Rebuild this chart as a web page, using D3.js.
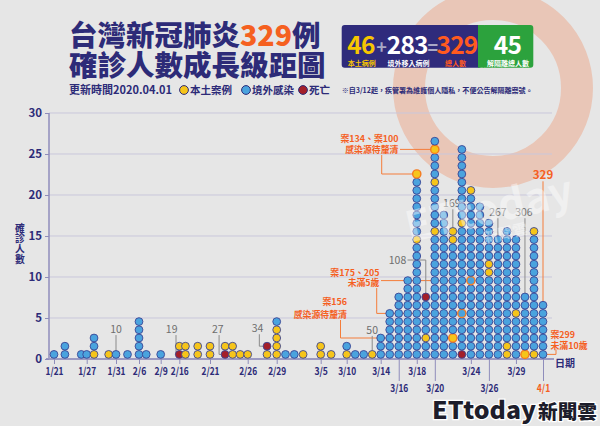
<!DOCTYPE html>
<html><head><meta charset="utf-8">
<script src="https://cdn.jsdelivr.net/npm/d3@7"></script>
<style>body{margin:0;background:#e6e6e6;overflow:hidden}text{font-family:'Noto Sans CJK TC','Noto Sans',sans-serif}</style>
</head><body><svg id="c" width="600" height="426"></svg>
<script>
// ---------------- DATA ----------------
// confirmation dates of each dot column
const columnDates = ["1/21","1/23","1/26","1/27","1/28","1/30","1/31","2/3","2/6","2/7","2/9",
 "2/16","2/17","2/19","2/21","2/23","2/24","2/25","2/26","2/28","2/29","3/1","3/2","3/3","3/5","3/7",
 "3/10","3/11","3/12","3/13","3/14","3/15","3/16","3/17","3/18","3/19","3/20","3/21","3/22","3/23",
 "3/24","3/25","3/26","3/27","3/28","3/29","3/30","3/31","4/1"];
// stack of each column, bottom to top (run-length): b = 境外感染, y = 本土案例, r = 死亡
const columnStacks = ["b","b2","b","b","y b2","y","b","b","b5","b","b",
 "r y","y2","y2","y2","r y","y2","y","y","y r","y4 b","b","b","y","y2","y",
 "y b","b","b","y","b3","b6","b8","b10","b14 y b7 y","b2 y b4 r","b15 y b5 y b3 y b","b18","b2 y b11 y2","r b15 y b9",
 "b20 y","b19","b10 y2 b5","b15","y2 b14","b5 y b9","y b7","y b14 y","b7"];
// highlighted case numbers (orange ring)
const ringedCases = [100,134,156,175,205,299];
// cumulative-count labels
const cumulativeCases = [10,19,27,34,50,108,169,267,306,329];
// axis ticks
const yTicks = [0,5,10,15,20,25,30];
const xTicksRow1 = ["1/21","1/27","1/31","2/6","2/9","2/16","2/21","2/26","2/29","3/5","3/10","3/14","3/18","3/24","3/29"];
const xTicksRow2 = ["3/16","3/20","3/26","4/1"];
// headline numbers
const localTotal = 46, importedTotal = 283, grandTotal = 329, recoveredTotal = 45;
const updateDate = "2020.04.01";

// ---------------- LAYOUT ----------------
const navy = "#2d2b78", orange = "#f5601f", blueFill = "#4aa3de", yellowFill = "#f6c51a", redFill = "#a41f29", dotStroke = "#3b4594";
const pd = s => { const [m,d] = s.split("/").map(Number); return new Date(Date.UTC(2020,m-1,d)); };
const fmt = d3.utcFormat("%-m/%-d");
// piecewise date scale (the original axis spacing is irregular)
const axisAnchorDates = ["1/21","1/27","1/31","2/6","2/9","2/16","2/21","2/26","2/29","3/5","3/10","3/14","4/1"];
const axisAnchorPx = [54,86.7,116,139,160.7,179.3,210,247.7,276.7,320.7,346.7,380.7,543];
const x = d3.scaleUtc().domain(axisAnchorDates.map(pd)).range(axisAnchorPx);
const y = d3.scaleLinear().domain([0,30]).range([359,113]);
const R = 3.9;

const svg = d3.select("#c");
svg.append("rect").attr("width",600).attr("height",426).attr("fill","#e6e6e6");

// watermark swirl
const sw = svg.append("g").attr("fill","none").attr("stroke","#e9c6b7");
sw.append("circle").attr("cx",493).attr("cy",88).attr("r",84).attr("stroke-width",32);

// gridlines
svg.append("g").selectAll("line").data(yTicks.filter(v=>v>0)).join("line")
  .attr("x1",49).attr("x2",552).attr("y1",d=>y(d)).attr("y2",d=>y(d))
  .attr("stroke","#c9c7db").attr("stroke-width",1);

// ---- expand dots ----
const dots = [];
let caseNo = 0;
columnDates.forEach((ds,i)=>{
  let row = 0;
  columnStacks[i].split(" ").forEach(tok=>{
    const t = tok[0], n = tok.length>1 ? +tok.slice(1) : 1;
    for(let k=0;k<n;k++){ row++; caseNo++; dots.push({date:pd(ds), row, type:t, n:caseNo}); }
  });
});
const dotX = d => x(d.date);
const dotY = d => y(d.row-0.5)-0.5;
const byCase = n => dots.find(d=>d.n===n);

// ---- annotation leaders (behind dots) ----
const notes = [
  {lines:["案134、案100","感染源待釐清"], anchor:"end", tx:398.5, ty:[141.6,153.3],
    leads:[{n:134, kind:"h", x0:400},{n:100, kind:"vh", vx:381.7, y0:155}]},
  {lines:["案175、205","未滿5歲"], anchor:"end", tx:379.5, ty:[276.4,286.2],
    leads:[{n:205, kind:"h", x0:381},{n:175, kind:"vh", vx:376.7, y0:288}]},
  {lines:["案156","感染源待釐清"], anchor:"end", tx:347, ty:[305,318.3],
    leads:[{n:156, kind:"vh", vx:340.5, y0:320}]},
  {lines:["案299","未滿10歲"], anchor:"start", tx:550.5, ty:[338.2,348.6],
    leads:[{n:299, kind:"vh", vx:556, y0:349.5}]}
];
const lg = svg.append("g").attr("fill","none").attr("stroke","#f47d3a").attr("stroke-width",1);
notes.forEach(nt=>nt.leads.forEach(l=>{
  const d = byCase(l.n), cx = dotX(d), cy = dotY(d);
  const p = d3.path();
  if(l.kind==="h"){ p.moveTo(l.x0,cy); p.lineTo(cx,cy); }
  else { p.moveTo(l.vx,l.y0); p.lineTo(l.vx,cy); p.lineTo(cx,cy); }
  lg.append("path").attr("d",p.toString());
}));

// cumulative labels leaders
const cumLayout = {
  10:{kind:"v", ty:3.65}, 19:{kind:"L", dx:-7.6, ty:3.65, lx:-3.3}, 27:{kind:"L", dx:-7.3, ty:3.65, lx:-6},
  34:{kind:"L", dx:-9.4, ty:3.75, lx:-7.7}, 50:{kind:"v", ty:3.55}, 108:{kind:"h", dx:-28.3, ty:12.07},
  169:{kind:"v", ty:18.99, dx:-1}, 267:{kind:"v", ty:17.9}, 306:{kind:"v", ty:17.9, dx:-1}, 329:{kind:"v", ty:22.4, big:true}
};
const cg = svg.append("g");
cumulativeCases.forEach(n=>{
  const L = cumLayout[n], d = byCase(n), cx = dotX(d), cy = dotY(d);
  const tx = cx + (L.dx||0), tcy = y(L.ty);
  const p = d3.path();
  if(L.kind==="v"){ p.moveTo(cx,tcy+6); p.lineTo(cx,cy-R); }
  else if(L.kind==="L"){ p.moveTo(cx+L.lx,tcy+6); p.lineTo(cx+L.lx,cy); p.lineTo(cx-R,cy); }
  else { p.moveTo(tx+10,tcy); p.lineTo(cx,tcy); p.lineTo(cx,cy-R); }
  cg.append("path").attr("d",p.toString()).attr("fill","none")
    .attr("stroke",L.big?"#f47d3a":"#8a8a8a").attr("stroke-width",1);
  cg.append("text").attr("x",tx).attr("y",tcy+3.8).attr("text-anchor","middle")
    .attr("font-size",L.big?11.5:10.5).attr("font-weight",L.big?700:400)
    .attr("fill",L.big?orange:"#6e6e6e").text(n);
});

// ---- axes ----
svg.append("line").attr("x1",49).attr("x2",49).attr("y1",y(30)).attr("y2",y(0)).attr("stroke","#8f8dbb").attr("stroke-width",1.5);
svg.append("line").attr("x1",46).attr("x2",554).attr("y1",y(0)).attr("y2",y(0)).attr("stroke","#9c9ac2").attr("stroke-width",1.8);
const yAx = svg.append("g").attr("transform","translate(49,0)")
  .call(d3.axisLeft(y).tickValues(yTicks).tickSize(4).tickPadding(3));
yAx.select(".domain").remove();
yAx.selectAll("line").attr("stroke","#8f8dbb");
yAx.selectAll("text").attr("font-size",11.5).attr("font-weight",700).attr("fill",navy).attr("font-family","'Noto Sans CJK TC',sans-serif");

const xAx1 = svg.append("g").attr("transform",`translate(0,${y(0)})`)
  .call(d3.axisBottom(x).tickValues(xTicksRow1.map(pd)).tickSize(5).tickPadding(3.5).tickFormat(fmt));
const xAx2 = svg.append("g").attr("transform",`translate(0,${y(0)})`)
  .call(d3.axisBottom(x).tickValues(xTicksRow2.map(pd)).tickSize(22).tickPadding(3.5).tickFormat(fmt));
[xAx1,xAx2].forEach(a=>{
  a.select(".domain").remove();
  a.selectAll("line").attr("stroke","#8f8dbb");
  a.selectAll("text").attr("font-size",10.5).attr("font-weight",700)
    .attr("textLength",d=>fmt(d).length*4.5).attr("lengthAdjust","spacingAndGlyphs")
    .attr("fill",navy).attr("font-family","'Noto Sans CJK TC',sans-serif");
});
xAx2.selectAll("text").filter(d=>fmt(d)==="4/1").attr("fill",orange);

svg.append("text").attr("x",555).attr("y",367).attr("font-size",10).attr("font-weight",700).attr("fill",navy).text("日期");
const yl = svg.append("text").attr("font-size",9.8).attr("font-weight",700).attr("fill",navy).attr("text-anchor","middle");
["確","診","人","數"].forEach((c,i)=>yl.append("tspan").attr("x",20).attr("y",232+i*10.3).text(c));

// ---- dots ----
const colorOf = {b:blueFill, y:yellowFill, r:redFill};
svg.append("g").selectAll("circle").data(dots).join("circle")
  .attr("cx",dotX).attr("cy",dotY)
  .attr("r",d=>ringedCases.includes(d.n)?4.1:R)
  .attr("fill",d=>colorOf[d.type])
  .attr("stroke",d=>ringedCases.includes(d.n)?"#f47b20":dotStroke)
  .attr("stroke-width",d=>ringedCases.includes(d.n)?1.4:0.9);

// ---- annotation texts ----
notes.forEach(nt=>nt.lines.forEach((t,i)=>{
  svg.append("text").attr("x",nt.tx).attr("y",nt.ty[i]).attr("text-anchor",nt.anchor)
    .attr("font-size",8.9).attr("font-weight",700).attr("fill",orange).text(t);
}));

// ---- chart watermark text ----
const wt = svg.append("g").attr("transform","rotate(-13,480,215)").attr("fill","#ffffff").attr("opacity",0.42);
wt.append("text").attr("x",405).attr("y",226).attr("font-size",42).attr("font-weight",700).attr("font-family","'Open Sans',sans-serif").text("ETtoday");
wt.append("text").attr("x",478).attr("y",244).attr("font-size",15).attr("font-weight",700).text("新聞雲");

// ---- title ----
const t1 = svg.append("text").attr("x",69).attr("y",45.5).attr("font-size",28.5).attr("font-weight",900).attr("fill",navy);
t1.append("tspan").text("台灣新冠肺炎");
t1.append("tspan").attr("fill",orange).text(grandTotal);
t1.append("tspan").text("例");
svg.append("text").attr("x",69).attr("y",75.5).attr("font-size",28.5).attr("font-weight",900).attr("fill",navy).text("確診人數成長級距圖");

// legend
svg.append("text").attr("x",69).attr("y",94).attr("font-size",11).attr("font-weight",700).attr("fill",navy).text("更新時間"+updateDate);
const legend = [{c:yellowFill,t:"本土案例",x:184},{c:blueFill,t:"境外感染",x:246},{c:redFill,t:"死亡",x:303}];
legend.forEach(l=>{
  svg.append("circle").attr("cx",l.x).attr("cy",90).attr("r",4.4).attr("fill",l.c).attr("stroke",navy).attr("stroke-width",1);
  svg.append("text").attr("x",l.x+6).attr("y",94).attr("font-size",10.5).attr("font-weight",700).attr("fill",navy).text(l.t);
});

// ---- stats box ----
svg.append("rect").attr("x",341.7).attr("y",25).attr("width",140).attr("height",42.7).attr("rx",3).attr("fill","#2f2b7c");
svg.append("rect").attr("x",481.7).attr("y",25).attr("width",51.6).attr("height",42.7).attr("rx",3).attr("fill","#2ca23d");
svg.append("rect").attr("x",478).attr("y",25).attr("width",6).attr("height",42.7).attr("fill","#2ca23d");
const big = (t,xc,c,fs)=>svg.append("text").attr("x",xc).attr("y",54).attr("text-anchor","middle").attr("font-size",fs).attr("font-weight",700).attr("fill",c).attr("letter-spacing",-0.8).text(t);
big(localTotal,361,"#f7c600",24.5); big("+",381.2,"#a9a8c6",18); big(importedTotal,407.3,"#ffffff",24.5); big("=",432.3,"#a9a8c6",18); big(grandTotal,457,"#ff5a1f",24.5); big(recoveredTotal,507.5,"#ffffff",24.5);
const sub = (t,xc,c)=>svg.append("text").attr("x",xc).attr("y",65.8).attr("text-anchor","middle").attr("font-size",7).attr("font-weight",700).attr("fill",c).text(t);
sub("本土病例",361.7,"#f7c600"); sub("境外移入病例",408.5,"#ffffff"); sub("總人數",455.5,"#ff5a1f"); sub("解隔離總人數",508,"#ffffff");
svg.append("text").attr("x",341.7).attr("y",93.2).attr("font-size",7.3).attr("font-weight",700).attr("fill",navy)
  .attr("textLength",191).attr("lengthAdjust","spacingAndGlyphs").text("※自3/12起，疾管署為維護個人隱私，不便公告解隔離案號。");

// ---- logo ----
svg.append("text").attr("x",432).attr("y",419).attr("font-size",24).attr("font-weight",800).attr("font-family","'Open Sans',sans-serif")
  .attr("fill","#1d1d2b").attr("stroke","#ffffff").attr("stroke-width",2.5).attr("paint-order","stroke")
  .attr("textLength",104).attr("lengthAdjust","spacingAndGlyphs").text("ETtoday");
svg.append("text").attr("x",538).attr("y",419).attr("font-size",19.5).attr("font-weight",900)
  .attr("fill","#1d1d2b").attr("stroke","#ffffff").attr("stroke-width",2.5).attr("paint-order","stroke")
  .attr("textLength",59).attr("lengthAdjust","spacingAndGlyphs").text("新聞雲");
</script></body></html>
